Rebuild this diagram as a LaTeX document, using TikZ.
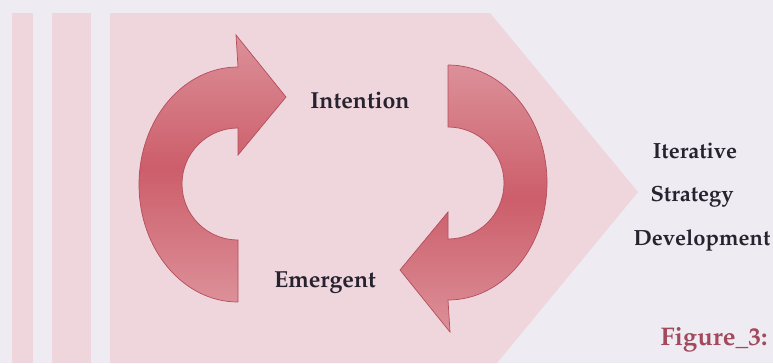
\documentclass[tikz,border=0pt]{standalone}
\usepackage[T1]{fontenc}
\usepackage{mathpazo}
\usepackage{xcolor}
\usepackage{tikz}

\definecolor{bgcol}{HTML}{EEEBF2}
\definecolor{pinkcol}{HTML}{EFD5DC}
\definecolor{arrowdark}{HTML}{CC5E6A}
\definecolor{arrowlight}{HTML}{DC9099}
\definecolor{arrowedge}{HTML}{B44E5C}
\definecolor{textcol}{HTML}{26222E}
\definecolor{figcol}{HTML}{A24A5C}

\begin{document}
\begin{tikzpicture}[x=0.02cm, y=0.02cm,
    txt/.style = {font=\fontsize{12.5}{15}\selectfont\bfseries, text=textcol, inner sep=0pt, anchor=base},
    big/.style = {font=\fontsize{13.2}{16}\selectfont\bfseries},
    turn/.style = {top color=arrowlight, bottom color=arrowlight, middle color=arrowdark, draw=arrowedge, line width=0.4pt}]
    \useasboundingbox (0,0) rectangle (773,363);
    \fill[bgcol] (0,0) rectangle (773,363);
    % stripes and chevron
    \fill[pinkcol] (12,0) rectangle (33,350);
    \fill[pinkcol] (52,0) rectangle (91,350);
    \fill[pinkcol] (110,0) -- (110,350) -- (490,350) -- (638,171) -- (497,0) -- cycle;
    % the two curved arrows
    \draw[turn] (238,61) -- ++(0,62) arc[start angle=270, end angle=90, radius=56] -- ++(0,-27) -- ++(48,58) -- ++(-50,62) -- ++(2,-32) arc[start angle=90, end angle=270, x radius=99, y radius=117.5] -- cycle;
    \begin{scope}[rotate around={180:(343,179.5)}]
        \draw[turn] (238,61) -- ++(0,62) arc[start angle=270, end angle=90, radius=56] -- ++(0,-27) -- ++(48,58) -- ++(-50,62) -- ++(2,-32) arc[start angle=90, end angle=270, x radius=99, y radius=117.5] -- cycle;
    \end{scope}
    \node[txt, big] (intention) at (360,255) {Intention};
    \node[txt, big] (emergent) at (325,76) {Emergent};
    \node[txt] (iterative) at (695,205) {Iterative};
    \node[txt] (strategy) at (692,162) {Strategy};
    \node[txt] (development) at (702,118) {Development};
    \node[txt, font=\fontsize{14.5}{17}\selectfont\bfseries, text=figcol] (figure) at (714,18) {Figure\_3:};
\end{tikzpicture}
\end{document}
